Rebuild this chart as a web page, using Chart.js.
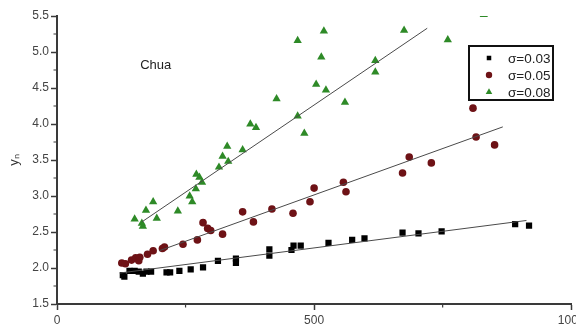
<!DOCTYPE html>
<html>
<head>
<meta charset="utf-8">
<script src="https://cdn.jsdelivr.net/npm/chart.js@4/dist/chart.umd.min.js"></script>
<style>
  html, body { margin: 0; padding: 0; background: #fff; }
</style>
</head>
<body>
<canvas id="chart" width="576" height="331"></canvas>
<script>
// values
const sig03X = [128, 131, 141, 151, 159, 167, 174, 183, 213, 220, 238, 260, 284, 313, 348, 348, 413, 413, 456, 460, 474, 528, 574, 598, 672, 703, 748, 891, 918];
const sig03Y = [1.90, 1.88, 1.96, 1.96, 1.95, 1.92, 1.95, 1.95, 1.94, 1.94, 1.96, 1.98, 2.01, 2.10, 2.13, 2.07, 2.26, 2.17, 2.25, 2.31, 2.31, 2.35, 2.39, 2.41, 2.49, 2.48, 2.51, 2.61, 2.59];

const sig05X = [126, 133, 145, 153, 159, 161, 176, 187, 205, 209, 245, 273, 284, 293, 299, 322, 361, 382, 418, 459, 492, 500, 557, 562, 672, 685, 728, 809, 815, 851];
const sig05Y = [2.07, 2.06, 2.11, 2.14, 2.10, 2.15, 2.19, 2.24, 2.27, 2.29, 2.33, 2.39, 2.63, 2.55, 2.52, 2.47, 2.78, 2.64, 2.82, 2.76, 2.92, 3.11, 3.19, 3.06, 3.32, 3.54, 3.46, 4.22, 3.82, 3.71];

const sig08X = [151, 165, 167, 173, 187, 194, 235, 258, 263, 270, 271, 277, 282, 315, 322, 331, 333, 361, 376, 387, 427, 468, 468, 481, 504, 514, 519, 523, 560, 619, 619, 675, 760, 830];
const sig08Y = [2.68, 2.62, 2.58, 2.80, 2.92, 2.69, 2.79, 3.00, 2.92, 3.10, 3.30, 3.26, 3.19, 3.40, 3.55, 3.69, 3.48, 3.64, 4.00, 3.95, 4.35, 5.16, 4.11, 3.87, 4.55, 4.93, 5.29, 4.47, 4.30, 4.88, 4.72, 5.30, 5.17, 5.52];

// fitted lines: start and end points
const fit03 = [[122, 1.93], [913, 2.66]];
const fit05 = [[199, 2.24], [867, 3.96]];
const fit08 = [[165, 2.64], [720, 5.33]];

const seriesLabels = ['σ=0.03', 'σ=0.05', 'σ=0.08'];
const xMinor = [250, 750];
const yMinor = [1.75, 2.25, 2.75, 3.25, 3.75, 4.25, 4.75, 5.25];
const noteText = 'Chua';
const notePos = [192, 4.82];

const colors = ['#000000', '#6e1216', '#2e8a27'];
const styles = ['rect', 'circle', 'triangle'];
const radii = [4.4, 3.8, 4.8];
const axisColor = '#3a3a3a';

Chart.defaults.font.family = "'Liberation Sans', Arial, sans-serif";
Chart.defaults.font.size = 12;

function toPoints(xs, ys) {
    return xs.map((x, i) => ({ x: x, y: ys[i] }));
}

function fitPoints(f) {
    return f.map(p => ({ x: p[0], y: p[1] }));
}

function drawMarker(ctx, style, x, y, r, color) {
    ctx.fillStyle = color;
    ctx.beginPath();
    if (style === 'rect') {
        const s = r * Math.SQRT1_2;
        ctx.rect(x - s, y - s, 2 * s, 2 * s);
    } else if (style === 'circle') {
        ctx.arc(x, y, r, 0, Math.PI * 2);
    } else {
        ctx.moveTo(x, y - r);
        ctx.lineTo(x + r * 0.866, y + r * 0.5);
        ctx.lineTo(x - r * 0.866, y + r * 0.5);
        ctx.closePath();
    }
    ctx.fill();
}

const extras = {
    id: 'extras',
    afterDraw(chart) {
        const ctx = chart.ctx;
        const xs = chart.scales.x;
        const ys = chart.scales.y;
        ctx.save();

        // minor ticks
        ctx.strokeStyle = axisColor;
        ctx.lineWidth = 1.2;
        ctx.beginPath();
        xMinor.forEach(v => {
            const px = xs.getPixelForValue(v);
            ctx.moveTo(px, ys.bottom);
            ctx.lineTo(px, ys.bottom + 3.5);
        });
        yMinor.forEach(v => {
            const py = ys.getPixelForValue(v);
            ctx.moveTo(xs.left, py);
            ctx.lineTo(xs.left - 3.5, py);
        });
        ctx.stroke();

        // note
        ctx.fillStyle = '#222';
        ctx.font = "13px 'Liberation Sans', Arial, sans-serif";
        ctx.textAlign = 'center';
        ctx.textBaseline = 'middle';
        ctx.fillText(noteText, xs.getPixelForValue(notePos[0]), ys.getPixelForValue(notePos[1]));

        // legend box
        const bx = 469, by = 46, bw = 84, bh = 54;
        ctx.fillStyle = '#fff';
        ctx.fillRect(bx, by, bw, bh);
        ctx.strokeStyle = '#111';
        ctx.lineWidth = 2;
        ctx.strokeRect(bx, by, bw, bh);
        ctx.textAlign = 'left';
        ctx.font = "13.5px 'Liberation Sans', Arial, sans-serif";
        seriesLabels.forEach((lab, i) => {
            const y = by + 12 + i * 17;
            drawMarker(ctx, styles[i], bx + 20, y, i === 2 ? 3.8 : 3.2, colors[i]);
            ctx.fillStyle = '#222';
            ctx.fillText(lab, bx + 39, y + 1);
        });
        ctx.restore();
    }
};

const scatterSets = [
    toPoints(sig03X, sig03Y),
    toPoints(sig05X, sig05Y),
    toPoints(sig08X, sig08Y)
].map((pts, i) => ({
    label: seriesLabels[i],
    data: pts,
    pointStyle: styles[i],
    pointRadius: radii[i],
    pointBackgroundColor: colors[i],
    pointBorderColor: colors[i],
    pointBorderWidth: 0,
    order: 1,
    clip: i === 2 ? { left: false, top: 0, right: false, bottom: false } : undefined
}));

const fitSets = [fit03, fit05, fit08].map(f => ({
    label: 'fit',
    data: fitPoints(f),
    showLine: true,
    pointRadius: 0,
    borderColor: '#4a4a4a',
    borderWidth: 1,
    order: 0
}));

new Chart(document.getElementById('chart'), {
    type: 'scatter',
    data: { datasets: scatterSets.concat(fitSets) },
    options: {
        responsive: false,
        animation: false,
        layout: { padding: { top: 16, right: 1, left: 0, bottom: 0 } },
        plugins: {
            legend: { display: false },
            tooltip: { enabled: false }
        },
        scales: {
            x: {
                type: 'linear',
                min: 0,
                max: 1000,
                ticks: {
                    stepSize: 500,
                    color: '#444',
                    padding: 3,
                    maxRotation: 0,
                    callback: v => String(v)
                },
                grid: {
                    drawOnChartArea: false,
                    tickLength: 6,
                    tickColor: axisColor,
                    tickWidth: 1.5
                },
                border: { color: axisColor, width: 2 },
                afterFit(scale) {
                    scale.paddingRight = 0;
                    scale.height = 27;
                }
            },
            y: {
                type: 'linear',
                min: 1.5,
                max: 5.5,
                ticks: {
                    stepSize: 0.5,
                    color: '#444',
                    padding: 2,
                    callback: v => v.toFixed(1)
                },
                grid: {
                    drawOnChartArea: false,
                    tickLength: 6,
                    tickColor: axisColor,
                    tickWidth: 1.5
                },
                border: { color: axisColor, width: 2 },
                title: {
                    display: true,
                    text: 'yₙ',
                    color: '#333',
                    font: { size: 13 },
                    padding: { top: 7, bottom: 0 }
                },
                afterFit(scale) {
                    scale.width = 57;
                }
            }
        }
    },
    plugins: [extras]
});
</script>
</body>
</html>
